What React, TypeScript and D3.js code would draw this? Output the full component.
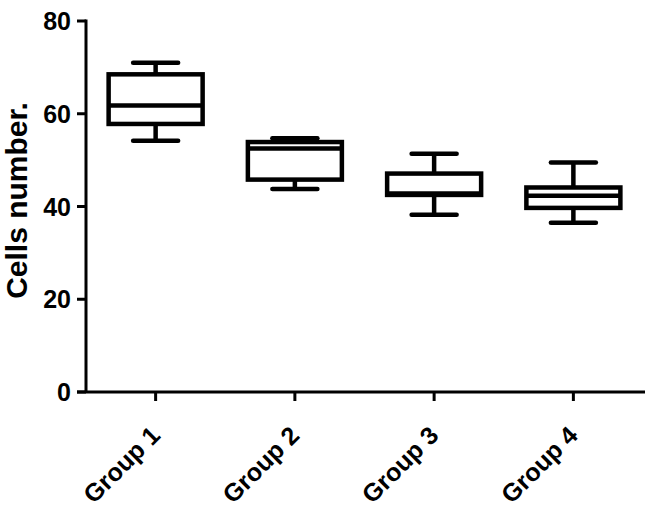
import React from 'react';
import * as d3 from 'd3';

// box plot values
const groups = ['Group 1', 'Group 2', 'Group 3', 'Group 4'];
const whiskerLow = [54.2, 43.8, 38.2, 36.5];
const q1 = [57.8, 45.8, 42.5, 39.7];
const median = [61.8, 52.5, 42.8, 42.3];
const q3 = [68.5, 53.9, 47.1, 44.1];
const whiskerHigh = [71.0, 54.7, 51.4, 49.5];
const yTicks = [0, 20, 40, 60, 80];

const width = 645;
const height = 509;
const font = 'Liberation Sans, Arial, sans-serif';

export default function App() {
  const x = d3.scaleBand<string>().domain(groups).range([86, 643]);
  const y = d3.scaleLinear().domain([0, 80]).range([392, 21]);

  const boxW = 94;
  const capW = 45;
  const sw = 4.5;

  return (
    <svg
      width={width}
      height={height}
      style={{ position: 'absolute', left: 0, top: 0, background: '#fff' }}
      fontFamily={font}
      fontWeight="bold"
    >
      {/* y axis */}
      <line x1={86} x2={86} y1={y(80) - 1.5} y2={y(0)} stroke="#000" strokeWidth={3} />
      {yTicks.map((t) => (
        <g key={t}>
          <line x1={77} x2={86} y1={y(t)} y2={y(t)} stroke="#000" strokeWidth={3} />
          <text x={71} y={y(t)} dy="0.36em" textAnchor="end" fontSize={25}>
            {t}
          </text>
        </g>
      ))}
      {/* x axis */}
      <line x1={77} x2={645} y1={y(0)} y2={y(0)} stroke="#000" strokeWidth={3} />
      {groups.map((g) => {
        const cx = x(g)! + x.bandwidth() / 2;
        return (
          <g key={g}>
            <line x1={cx} x2={cx} y1={y(0)} y2={y(0) + 9} stroke="#000" strokeWidth={3} />
            <text
              transform={`translate(${cx + 6},${y(0) + 45}) rotate(-45)`}
              textAnchor="end"
              fontSize={25}
            >
              {g}
            </text>
          </g>
        );
      })}
      {/* boxes */}
      {groups.map((g, i) => {
        const cx = x(g)! + x.bandwidth() / 2;
        return (
          <g key={'b' + g} stroke="#000" strokeWidth={sw} fill="none">
            <line x1={cx} x2={cx} y1={y(whiskerHigh[i])} y2={y(q3[i])} />
            <line x1={cx} x2={cx} y1={y(q1[i])} y2={y(whiskerLow[i])} />
            <line
              x1={cx - capW / 2}
              x2={cx + capW / 2}
              y1={y(whiskerHigh[i])}
              y2={y(whiskerHigh[i])}
              strokeLinecap="round"
            />
            <line
              x1={cx - capW / 2}
              x2={cx + capW / 2}
              y1={y(whiskerLow[i])}
              y2={y(whiskerLow[i])}
              strokeLinecap="round"
            />
            <rect
              x={cx - boxW / 2}
              y={y(q3[i])}
              width={boxW}
              height={y(q1[i]) - y(q3[i])}
            />
            <line x1={cx - boxW / 2} x2={cx + boxW / 2} y1={y(median[i])} y2={y(median[i])} />
          </g>
        );
      })}
      {/* y label */}
      <text
        transform={`translate(27,${(y(0) + y(80)) / 2 - 6}) rotate(-90)`}
        textAnchor="middle"
        fontSize={30}
      >
        Cells number.
      </text>
    </svg>
  );
}
